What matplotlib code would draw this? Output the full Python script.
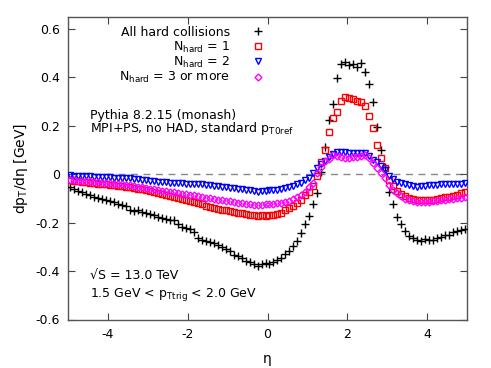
import numpy as np
import matplotlib
matplotlib.use("Agg")
import matplotlib.pyplot as plt

eta = np.round(np.arange(-4.95, 5.0, 0.1), 2)

all_hard = [-0.055, -0.062, -0.070, -0.075, -0.082, -0.088, -0.093, -0.097, -0.103, -0.108,
            -0.112, -0.116, -0.122, -0.127, -0.133, -0.150, -0.152, -0.150, -0.155, -0.160,
            -0.165, -0.168, -0.176, -0.182, -0.185, -0.188, -0.190, -0.205, -0.218, -0.222,
            -0.228, -0.240, -0.262, -0.272, -0.276, -0.279, -0.285, -0.293, -0.300, -0.310,
            -0.318, -0.333, -0.340, -0.348, -0.358, -0.362, -0.370, -0.378, -0.372, -0.368,
            -0.370, -0.362, -0.355, -0.348, -0.330, -0.318, -0.298, -0.275, -0.245, -0.205,
            -0.175, -0.125, -0.080, 0.010, 0.110, 0.225, 0.290, 0.396, 0.455, 0.462,
            0.450, 0.452, 0.440, 0.458, 0.420, 0.370, 0.297, 0.194, 0.100, 0.030,
            -0.075, -0.125, -0.176, -0.205, -0.235, -0.255, -0.265, -0.272, -0.275, -0.268,
            -0.272, -0.270, -0.262, -0.258, -0.252, -0.250, -0.240, -0.236, -0.230, -0.226]

nhard1 = [-0.025, -0.028, -0.030, -0.032, -0.033, -0.036, -0.038, -0.040, -0.042, -0.043,
          -0.045, -0.046, -0.048, -0.050, -0.052, -0.055, -0.058, -0.060, -0.063, -0.066,
          -0.070, -0.072, -0.078, -0.082, -0.085, -0.090, -0.095, -0.100, -0.104, -0.108,
          -0.112, -0.115, -0.120, -0.125, -0.133, -0.136, -0.140, -0.143, -0.147, -0.150,
          -0.153, -0.157, -0.160, -0.162, -0.165, -0.168, -0.170, -0.172, -0.170, -0.172,
          -0.168, -0.170, -0.165, -0.160, -0.150, -0.140, -0.130, -0.118, -0.108, -0.085,
          -0.075, -0.050, -0.010, 0.050, 0.100, 0.175, 0.230, 0.258, 0.300, 0.317,
          0.313, 0.310, 0.302, 0.297, 0.280, 0.240, 0.190, 0.120, 0.065, 0.025,
          -0.025, -0.050, -0.068, -0.082, -0.090, -0.098, -0.103, -0.107, -0.106, -0.108,
          -0.106, -0.105, -0.103, -0.100, -0.096, -0.093, -0.090, -0.087, -0.080, -0.073]

nhard2 = [-0.004, -0.006, -0.007, -0.008, -0.010, -0.010, -0.011, -0.012, -0.013, -0.014,
          -0.014, -0.015, -0.016, -0.016, -0.017, -0.018, -0.020, -0.022, -0.024, -0.025,
          -0.027, -0.029, -0.031, -0.032, -0.034, -0.035, -0.036, -0.037, -0.038, -0.039,
          -0.040, -0.040, -0.042, -0.043, -0.045, -0.046, -0.048, -0.050, -0.052, -0.054,
          -0.056, -0.058, -0.060, -0.062, -0.064, -0.066, -0.070, -0.073, -0.070, -0.068,
          -0.066, -0.066, -0.064, -0.062, -0.058, -0.052, -0.048, -0.043, -0.035, -0.025,
          -0.015, 0.005, 0.025, 0.040, 0.055, 0.072, 0.084, 0.090, 0.092, 0.090,
          0.088, 0.086, 0.087, 0.088, 0.085, 0.074, 0.060, 0.048, 0.033, 0.015,
          -0.008, -0.020, -0.032, -0.037, -0.040, -0.046, -0.050, -0.052, -0.050, -0.048,
          -0.046, -0.045, -0.044, -0.043, -0.042, -0.043, -0.042, -0.041, -0.040, -0.036]

nhard3 = [-0.025, -0.026, -0.027, -0.028, -0.029, -0.030, -0.032, -0.033, -0.035, -0.036,
          -0.038, -0.040, -0.041, -0.043, -0.045, -0.047, -0.050, -0.052, -0.055, -0.058,
          -0.060, -0.062, -0.065, -0.068, -0.070, -0.073, -0.076, -0.080, -0.082, -0.084,
          -0.086, -0.088, -0.092, -0.096, -0.098, -0.100, -0.102, -0.105, -0.107, -0.110,
          -0.112, -0.115, -0.118, -0.120, -0.122, -0.124, -0.126, -0.128, -0.126, -0.124,
          -0.125, -0.122, -0.121, -0.120, -0.115, -0.110, -0.103, -0.096, -0.085, -0.073,
          -0.055, -0.035, 0.004, 0.030, 0.052, 0.064, 0.077, 0.074, 0.070, 0.068,
          0.066, 0.069, 0.072, 0.076, 0.078, 0.068, 0.045, 0.025, 0.006, -0.015,
          -0.045, -0.065, -0.080, -0.092, -0.102, -0.108, -0.112, -0.114, -0.115, -0.114,
          -0.114, -0.112, -0.110, -0.108, -0.106, -0.104, -0.102, -0.100, -0.097, -0.094]

labels = ["All hard collisions", r"N$_{\mathregular{hard}}$ = 1",
          r"N$_{\mathregular{hard}}$ = 2", r"N$_{\mathregular{hard}}$ = 3 or more"]
xticks = [-4, -2, 0, 2, 4]
yticks = [-0.6, -0.4, -0.2, 0, 0.2, 0.4, 0.6]
ytick_labels = ['-0.6', '-0.4', '-0.2', '0', '0.2', '0.4', '0.6']

plt.rcParams['font.family'] = ['DejaVu Sans']
plt.rcParams['mathtext.fontset'] = 'dejavusans'
fs = 9

TOP, BOT = 16.5, 319.5
fig = plt.figure(figsize=(4.91, 3.68), dpi=100)
H = BOT - TOP
ax = fig.add_axes([68/491, 1 - BOT/368, (467-68)/491, H/368])


def ay(px):
    return (BOT - px) / H


ax.axhline(0, color='#888888', lw=1.0, ls=(0, (5, 4)), zorder=1)

styles = [
    dict(marker='+', color='black', ms=5.5, mew=1.0, mfc='none'),
    dict(marker='s', color='#ff0000', ms=4.5, mew=1.0, mfc='none'),
    dict(marker='v', color='#0000ff', ms=4.2, mew=1.0, mfc='none'),
    dict(marker='D', color='#ff00ff', ms=3.5, mew=1.0, mfc='none'),
]
series = [all_hard, nhard1, nhard2, nhard3]
for ser, st in zip(series, styles):
    ax.plot(eta, ser, ls='none', zorder=3, **st)

ax.set_xlim(-5, 5)
ax.set_ylim(-0.6, 0.65)
ax.set_xticks(xticks)
ax.set_yticks(yticks)
ax.set_xticklabels([str(t) for t in xticks])
ax.set_yticklabels(ytick_labels)
ax.tick_params(direction='in', length=5, width=0.8, top=True, right=True,
               labelsize=fs, pad=6, colors='#444444', labelcolor='black')
for s in ax.spines.values():
    s.set_color('#555555')
    s.set_linewidth(1.0)

ax.set_xlabel('η', fontsize=fs + 1, labelpad=8)
ax.set_ylabel(r'dp$_{\mathregular{T}}$/dη [GeV]', fontsize=fs + 1, labelpad=4)

# legend (manual, gnuplot style: right aligned text, marker to the right)
text_base = [35.7, 50.7, 65.7, 80.7]
mark_y = [30.7, 45.7, 61.0, 76.7]
for lab, st, tb, my in zip(labels, styles, text_base, mark_y):
    ax.text(0.407, ay(tb), lab, transform=ax.transAxes, ha='right', va='baseline', fontsize=fs)
    ax.plot([0.477], [ay(my)], transform=ax.transAxes, ls='none', clip_on=False, **st)

ax.text(0.055, ay(118.5), 'Pythia 8.2.15 (monash)', transform=ax.transAxes,
        ha='left', va='baseline', fontsize=fs)
ax.text(0.055, ay(132), r'MPI+PS, no HAD, standard p$_{\mathregular{T0ref}}$',
        transform=ax.transAxes, ha='left', va='baseline', fontsize=fs)
ax.text(0.055, ay(279), '√S = 13.0 TeV', transform=ax.transAxes,
        ha='left', va='baseline', fontsize=fs)
ax.text(0.055, ay(297), r'1.5 GeV < p$_{\mathregular{Ttrig}}$ < 2.0 GeV',
        transform=ax.transAxes, ha='left', va='baseline', fontsize=fs)

fig.savefig('out.png', dpi=100)
